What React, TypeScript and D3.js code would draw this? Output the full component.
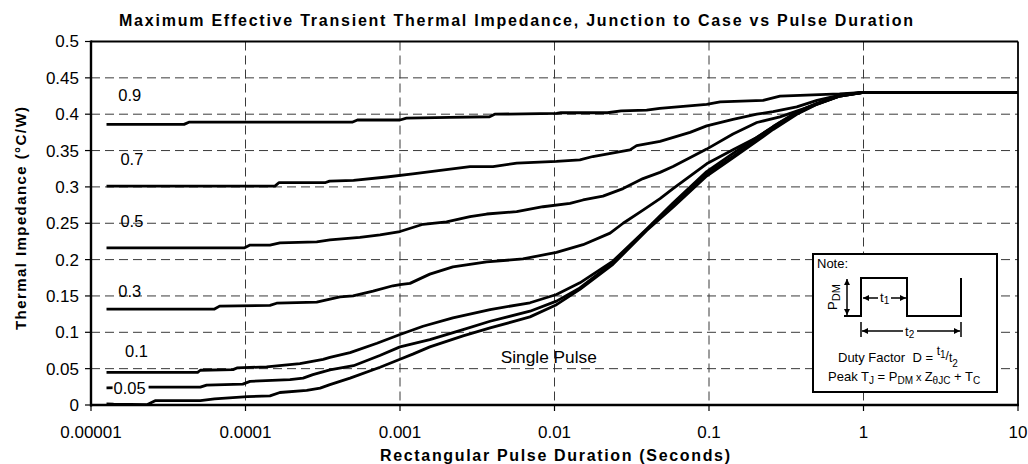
import React from "react";
import * as d3 from "d3";

type Pt = [number, number];

const xTickValues = [1e-5, 1e-4, 1e-3, 1e-2, 1e-1, 1, 10];
const xTickLabels = ["0.00001", "0.0001", "0.001", "0.01", "0.1", "1", "10"];
const yTickValues = [0, 0.05, 0.1, 0.15, 0.2, 0.25, 0.3, 0.35, 0.4, 0.45, 0.5];
const yTickLabels = ["0", "0.05", "0.1", "0.15", "0.2", "0.25", "0.3", "0.35", "0.4", "0.45", "0.5"];

const d09: Pt[] = [
  [1.26e-5, 0.386], [4.0e-5, 0.386], [4.3e-5, 0.389], [4.9e-4, 0.389], [5.3e-4, 0.392],
  [1.0e-3, 0.392], [1.1e-3, 0.3945], [2.1e-3, 0.3955], [3.8e-3, 0.3965], [4.1e-3, 0.4],
  [1.03e-2, 0.401], [1.1e-2, 0.402], [2.2e-2, 0.402], [2.7e-2, 0.4045], [3.95e-2, 0.4055],
  [4.8e-2, 0.408], [0.0966, 0.4136], [0.118, 0.417], [0.224, 0.419], [0.288, 0.425],
  [0.7, 0.428], [1.0, 0.43], [10, 0.43],
];
const d07: Pt[] = [
  [1.26e-5, 0.301], [1.55e-4, 0.301], [1.65e-4, 0.306], [3.3e-4, 0.306], [3.5e-4, 0.308],
  [5.0e-4, 0.309], [8.2e-4, 0.3136], [1.21e-3, 0.318], [2.84e-3, 0.328], [4.0e-3, 0.328],
  [5.7e-3, 0.3327], [1.03e-2, 0.335], [1.46e-2, 0.3373], [1.77e-2, 0.3418], [3.08e-2, 0.351],
  [3.4e-2, 0.3568], [4.82e-2, 0.3627], [7.54e-2, 0.375], [9.66e-2, 0.384], [0.143, 0.393],
  [0.204, 0.4], [0.26, 0.4036], [0.37, 0.41], [0.5, 0.419], [0.705, 0.4264], [1.0, 0.43], [10, 0.43],
];
const d05: Pt[] = [
  [1.26e-5, 0.216], [9.8e-5, 0.216], [1.07e-4, 0.22], [1.44e-4, 0.22], [1.67e-4, 0.223],
  [2.89e-4, 0.2245], [3.52e-4, 0.227], [5.5e-4, 0.2305], [7.43e-4, 0.234], [1.0e-3, 0.2386],
  [1.41e-3, 0.2486], [2.0e-3, 0.252], [2.84e-3, 0.259], [3.64e-3, 0.2627], [5.69e-3, 0.266],
  [8.43e-3, 0.2727], [1.26e-2, 0.2773], [1.53e-2, 0.282], [2.06e-2, 0.2873], [2.78e-2, 0.2977],
  [3.74e-2, 0.3114], [4.82e-2, 0.32], [5.85e-2, 0.328], [9.66e-2, 0.352], [0.143, 0.3727],
  [0.204, 0.3886], [0.288, 0.3964], [0.43, 0.409], [0.705, 0.425], [1.0, 0.43], [10, 0.43],
];
const d03: Pt[] = [
  [1.26e-5, 0.132], [6.3e-5, 0.132], [6.8e-5, 0.136], [1.44e-4, 0.137], [1.59e-4, 0.14],
  [2.89e-4, 0.1416], [4.09e-4, 0.1486], [4.97e-4, 0.15], [6.69e-4, 0.1565], [9.0e-4, 0.164],
  [1.0e-3, 0.1657], [1.16e-3, 0.1673], [1.56e-3, 0.18], [2.2e-3, 0.19], [3.64e-3, 0.1968],
  [6.25e-3, 0.2009], [1.03e-2, 0.21], [1.53e-2, 0.2205], [2.29e-2, 0.2364], [2.78e-2, 0.25],
  [3.74e-2, 0.268], [4.82e-2, 0.284], [5.85e-2, 0.2977], [9.66e-2, 0.3318], [0.143, 0.351],
  [0.204, 0.368], [0.288, 0.3886], [0.43, 0.409], [0.705, 0.4264], [1.0, 0.43], [10, 0.43],
];
const d01: Pt[] = [
  [1.26e-5, 0.045], [4.9e-5, 0.045], [5.1e-5, 0.0478], [8.3e-5, 0.0487], [8.8e-5, 0.051],
  [1.37e-4, 0.0525], [2.25e-4, 0.057], [3.18e-4, 0.0627], [3.52e-4, 0.0654], [4.75e-4, 0.072],
  [7.1e-4, 0.085], [1.0e-3, 0.097], [1.41e-3, 0.1083], [2.2e-3, 0.1198], [3.83e-3, 0.1313],
  [6.94e-3, 0.1406], [1.03e-2, 0.152], [1.46e-2, 0.168], [2.39e-2, 0.198], [3.95e-2, 0.242],
  [5.85e-2, 0.2777], [9.66e-2, 0.321], [0.143, 0.346], [0.204, 0.368], [0.26, 0.383],
  [0.37, 0.403], [0.5, 0.415], [0.705, 0.4255], [1.0, 0.43], [10, 0.43],
];
const d005: Pt[] = [
  [1.26e-5, 0.0235], [2.3e-5, 0.0246], [5.1e-5, 0.0246], [5.6e-5, 0.0274], [9.6e-5, 0.0288],
  [1.07e-4, 0.0325], [1.94e-4, 0.0348], [2.36e-4, 0.037], [2.73e-4, 0.0418], [3.52e-4, 0.0484],
  [5.0e-4, 0.054], [7.4e-4, 0.068], [1.0e-3, 0.08], [1.56e-3, 0.0899], [2.56e-3, 0.1037],
  [3.83e-3, 0.1152], [6.94e-3, 0.129], [1.03e-2, 0.1429], [1.46e-2, 0.161], [2.39e-2, 0.196],
  [3.95e-2, 0.241], [5.85e-2, 0.275], [9.66e-2, 0.318], [0.143, 0.342], [0.204, 0.365],
  [0.26, 0.381], [0.37, 0.401], [0.5, 0.414], [0.705, 0.425], [1.0, 0.43], [10, 0.43],
];
const dSingle: Pt[] = [
  [1.26e-5, 0.0014], [1.4e-5, 0.001], [2.3e-5, 0.0005], [2.6e-5, 0.006], [5.1e-5, 0.006],
  [6.3e-5, 0.0084], [1.03e-4, 0.0116], [1.44e-4, 0.0125], [1.67e-4, 0.0172], [2.49e-4, 0.02],
  [3.04e-4, 0.0232], [3.52e-4, 0.028], [4.75e-4, 0.037], [7.43e-4, 0.052], [1.0e-3, 0.063],
  [1.21e-3, 0.07], [1.56e-3, 0.08], [2.56e-3, 0.095], [3.83e-3, 0.106], [6.94e-3, 0.1212],
  [1.03e-2, 0.138], [1.46e-2, 0.159], [2.39e-2, 0.1935], [3.95e-2, 0.24], [5.85e-2, 0.272],
  [9.66e-2, 0.315], [0.143, 0.34], [0.204, 0.363], [0.26, 0.379], [0.37, 0.4], [0.5, 0.4136],
  [0.705, 0.425], [1.0, 0.43], [10, 0.43],
];

const seriesList: Pt[][] = [d09, d07, d05, d03, d01, d005, dSingle];

// curve labels: text, anchor in data space (duration, impedance)
const curveLabels: { text: string; x: number; y: number; mask?: boolean }[] = [
  { text: "0.9", x: 1.5e-5, y: 0.4175 },
  { text: "0.7", x: 1.55e-5, y: 0.33 },
  { text: "0.5", x: 1.55e-5, y: 0.245 },
  { text: "0.3", x: 1.5e-5, y: 0.1486 },
  { text: "0.1", x: 1.66e-5, y: 0.0664 },
  { text: "0.05", x: 1.4e-5, y: 0.0147, mask: true },
];
const singleLabel = { text: "Single Pulse", x: 4.49e-3, y: 0.0571 };

const titleText = "Maximum Effective Transient Thermal Impedance, Junction to Case vs Pulse Duration";
const xTitle = "Rectangular Pulse Duration (Seconds)";
const yTitle = "Thermal Impedance (°C/W)";

const W = 1028;
const H = 464;
const FONT = "'Liberation Sans', Arial, Helvetica, sans-serif";

export default function App() {
  const x = d3.scaleLog().domain([1e-5, 10]).range([91, 1018]);
  const y = d3.scaleLinear().domain([0, 0.5]).range([405, 41.5]);
  const line = d3
    .line<Pt>()
    .x((d) => x(d[0]))
    .y((d) => y(d[1]));

  const [x0, x1] = x.range();
  const [y0, y1] = y.range();

  return (
    <svg
      width={W}
      height={H}
      style={{ position: "fixed", left: 0, top: 0, background: "#fff" }}
      fontFamily={FONT}
    >
      <defs>
        <marker id="ah" viewBox="0 0 10 10" refX="10" refY="5" markerWidth="6" markerHeight="6"
          markerUnits="userSpaceOnUse" orient="auto-start-reverse">
          <path d="M0,0 L10,5 L0,10 z" fill="#000" />
        </marker>
      </defs>
      <rect x={0} y={0} width={W} height={H} fill="#fff" />

      {/* title */}
      <text x={516} y={26} textAnchor="middle" fontSize={16} fontWeight="bold"
        textLength={794} lengthAdjust="spacing">{titleText}</text>

      {/* horizontal gridlines */}
      {yTickValues.filter((v) => v > 0 && v < 0.5).map((v) => (
        <line key={"hg" + v} x1={x0} x2={x1} y1={y(v)} y2={y(v)} stroke="#3a3a3a"
          strokeWidth={1} strokeDasharray="9,5" />
      ))}
      {/* vertical gridlines */}
      {xTickValues.filter((v) => v > 1e-5 && v < 10).map((v) => (
        <line key={"vg" + v} x1={x(v)} x2={x(v)} y1={y1} y2={y0} stroke="#3a3a3a"
          strokeWidth={1} strokeDasharray="9,5" />
      ))}

      {/* y ticks */}
      {yTickValues.map((v, i) => (
        <g key={"yt" + v}>
          <line x1={x0 - 6} x2={x0} y1={y(v)} y2={y(v)} stroke="#000" strokeWidth={1.2} />
          <text x={x0 - 12} y={y(v)} dy="0.35em" textAnchor="end" fontSize={17}>{yTickLabels[i]}</text>
        </g>
      ))}
      {/* x ticks */}
      {xTickValues.map((v, i) => (
        <g key={"xt" + v}>
          <line x1={x(v)} x2={x(v)} y1={y0} y2={y0 + 6} stroke="#000" strokeWidth={1.2} />
          <text x={x(v)} y={438} textAnchor="middle" fontSize={17}>{xTickLabels[i]}</text>
        </g>
      ))}

      {/* frame */}
      <line x1={x0} x2={x1} y1={y1} y2={y1} stroke="#000" strokeWidth={1.8} />
      <line x1={x1} x2={x1} y1={y1} y2={y0} stroke="#000" strokeWidth={1.8} />

      {/* curves */}
      {seriesList.map((s, i) => (
        <path key={"s" + i} d={line(s) || ""} fill="none" stroke="#000" strokeWidth={2.8}
          strokeLinejoin="round" />
      ))}

      {/* axes */}
      <line x1={x0} x2={x0} y1={y1 - 1} y2={y0 + 1.5} stroke="#000" strokeWidth={2.4} />
      <line x1={x0 - 1} x2={x1 + 1} y1={y0} y2={y0} stroke="#000" strokeWidth={2.6} />

      {/* curve labels */}
      {curveLabels.map((c) => (
        <g key={"cl" + c.text}>
          {c.mask && (
            <rect x={x(c.x) - 1} y={y(c.y) - 14} width={36} height={16} fill="#fff" />
          )}
          <text x={x(c.x)} y={y(c.y)} fontSize={16.5}>{c.text}</text>
        </g>
      ))}
      <text x={x(singleLabel.x)} y={y(singleLabel.y)} fontSize={17} textLength={96}
        lengthAdjust="spacingAndGlyphs">{singleLabel.text}</text>

      {/* axis titles */}
      <text x={555} y={461} textAnchor="middle" fontSize={16} fontWeight="bold"
        textLength={350} lengthAdjust="spacing">{xTitle}</text>
      <text transform="translate(26,218.5) rotate(-90)" textAnchor="middle" fontSize={15}
        fontWeight="bold" textLength={223} lengthAdjust="spacing">{yTitle}</text>

      {/* note box */}
      <g>
        <rect x={813} y={254} width={184} height={138} fill="#fff" stroke="#000" strokeWidth={2} />
        <text x={817} y={268} fontSize={13}>Note:</text>
        <path d="M844,316 H861 V278 H907 V316 H961 V278" fill="none" stroke="#000" strokeWidth={2} />
        <line x1={847} x2={847} y1={279} y2={315} stroke="#000" strokeWidth={1.5}
          markerStart="url(#ah)" markerEnd="url(#ah)" />
        <text transform="translate(837,297) rotate(-90)" textAnchor="middle" fontSize={13}>
          P<tspan fontSize={11} dy={3}>DM</tspan>
        </text>
        <line x1={878} x2={863} y1={298} y2={298} stroke="#000" strokeWidth={1.5} markerEnd="url(#ah)" />
        <line x1={891} x2={906} y1={298} y2={298} stroke="#000" strokeWidth={1.5} markerEnd="url(#ah)" />
        <text x={880} y={302} fontSize={13}>t<tspan fontSize={10} dy={2}>1</tspan></text>
        <line x1={861} x2={861} y1={322} y2={337} stroke="#000" strokeWidth={1.5} />
        <line x1={961} x2={961} y1={322} y2={337} stroke="#000" strokeWidth={1.5} />
        <line x1={903} x2={862} y1={331} y2={331} stroke="#000" strokeWidth={1.5} markerEnd="url(#ah)" />
        <line x1={917} x2={960} y1={331} y2={331} stroke="#000" strokeWidth={1.5} markerEnd="url(#ah)" />
        <text x={905} y={336} fontSize={13}>t<tspan fontSize={10} dy={2}>2</tspan></text>
        <text x={838} y={362} fontSize={13}>
          {"Duty Factor\u00a0\u00a0D =\u00a0"}
          <tspan fontSize={12} dy={-7}>t</tspan>
          <tspan fontSize={10} dy={3}>1</tspan>
          <tspan fontSize={12} dy={2}>/</tspan>
          <tspan fontSize={12} dy={2}>t</tspan>
          <tspan fontSize={10} dy={5}>2</tspan>
        </text>
        <text x={828} y={381} fontSize={13}>
          Peak T<tspan fontSize={10} dy={3}>J</tspan>
          <tspan dy={-3}> = P</tspan>
          <tspan fontSize={10} dy={3}>DM</tspan>
          <tspan dy={-3} fontSize={11}> x </tspan>
          <tspan>Z</tspan>
          <tspan fontSize={10} dy={3}>θJC</tspan>
          <tspan dy={-3}> + T</tspan>
          <tspan fontSize={10} dy={3}>C</tspan>
        </text>
      </g>
    </svg>
  );
}
